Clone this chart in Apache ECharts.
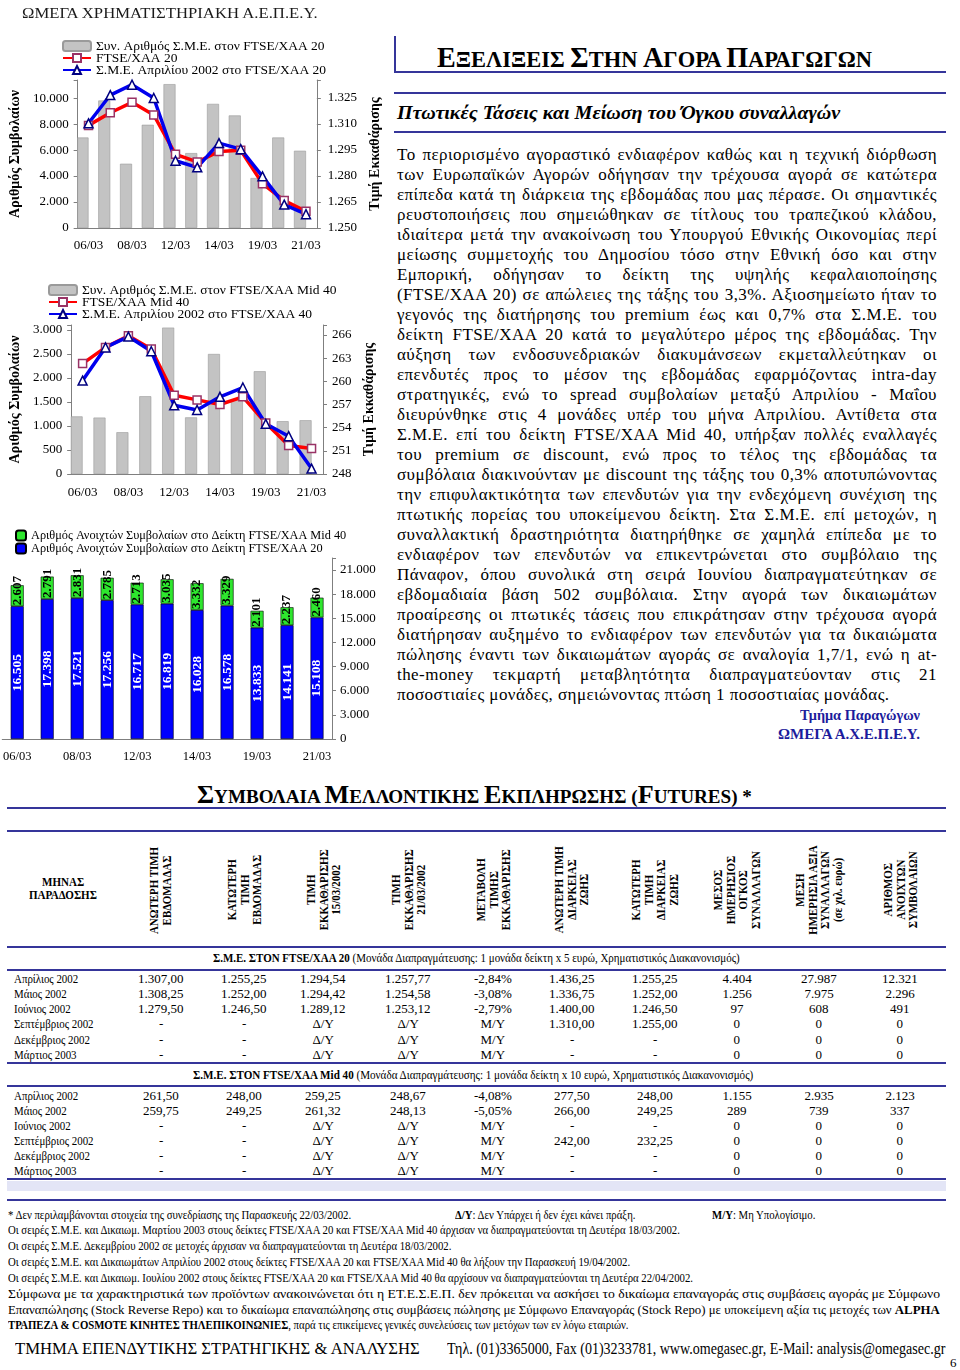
<!DOCTYPE html>
<html><head><meta charset="utf-8">
<script src="https://cdn.jsdelivr.net/npm/echarts@6/dist/echarts.min.js"></script>
<style>
html,body{margin:0;padding:0;background:#fff;}
body{width:960px;height:1370px;position:relative;overflow:hidden;font-family:"Liberation Serif","Times New Roman",serif;color:#000;}
.a{position:absolute;white-space:nowrap;transform-origin:0 50%;line-height:1;}
.hl{position:absolute;height:2px;background:#35359a;}
#left{position:absolute;left:0;top:0;width:390px;height:775px;}
</style></head><body>
<div id="left"></div>
<script>
// ---------------- DATA ----------------
const dates = ['06/03','07/03','08/03','11/03','12/03','13/03','14/03','15/03','19/03','20/03','21/03'];
const ftse20Volume = [6970, 9820, 4950, 7950, 11080, 5770, 9560, 8670, 3850, 6970, 5950];
const ftse20Index  = [1309.2, 1316.5, 1322.5, 1315.2, 1292.5, 1288.1, 1294.2, 1294.8, 1275.6, 1265.8, 1259.6];
const ftse20Apr    = [1310.4, 1326.7, 1332.7, 1325.0, 1288.8, 1285.0, 1299.0, 1295.5, 1279.8, 1263.5, 1258.0];
const mid40Volume  = [1200, 1175, 870, 1620, 3050, 1180, 2500, 1550, 2140, 1100, 1120];
const mid40Index   = [262.3, 264.4, 265.9, 264.2, 258.2, 257.6, 257.0, 258.0, 254.6, 251.7, 251.3];
const mid40Apr     = [260.1, 264.4, 265.8, 263.9, 256.9, 256.3, 258.0, 259.2, 254.5, 252.9, 248.7];
const oiFtse20     = [16505, 17398, 17521, 17256, 16717, 16819, 16028, 16578, 13833, 14141, 15108];
const oiMid40      = [2607, 2791, 2831, 2785, 2713, 3035, 3332, 3329, 2101, 2237, 2460];

const months = ['Απρίλιος 2002','Μάιος 2002','Ιούνιος 2002','Σεπτέμβριος 2002','Δεκέμβριος 2002','Μάρτιος 2003'];
const ftse20Table = [
 ['1.307,00','1.255,25','1.294,54','1.257,77','-2,84%','1.436,25','1.255,25','4.404','27.987','12.321'],
 ['1.308,25','1.252,00','1.294,42','1.254,58','-3,08%','1.336,75','1.252,00','1.256','7.975','2.296'],
 ['1.279,50','1.246,50','1.289,12','1.253,12','-2,79%','1.400,00','1.246,50','97','608','491'],
 ['-','-','Δ/Υ','Δ/Υ','Μ/Υ','1.310,00','1.255,00','0','0','0'],
 ['-','-','Δ/Υ','Δ/Υ','Μ/Υ','-','-','0','0','0'],
 ['-','-','Δ/Υ','Δ/Υ','Μ/Υ','-','-','0','0','0']];
const mid40Table = [
 ['261,50','248,00','259,25','248,67','-4,08%','277,50','248,00','1.155','2.935','2.123'],
 ['259,75','249,25','261,32','248,13','-5,05%','266,00','249,25','289','739','337'],
 ['-','-','Δ/Υ','Δ/Υ','Μ/Υ','-','-','0','0','0'],
 ['-','-','Δ/Υ','Δ/Υ','Μ/Υ','242,00','232,25','0','0','0'],
 ['-','-','Δ/Υ','Δ/Υ','Μ/Υ','-','-','0','0','0'],
 ['-','-','Δ/Υ','Δ/Υ','Μ/Υ','-','-','0','0','0']];
const tableHeaders = [
 ['ΑΝΩΤΕΡΗ ΤΙΜΗ','ΕΒΔΟΜΑΔΑΣ'],
 ['ΚΑΤΩΤΕΡΗ','ΤΙΜΗ','ΕΒΔΟΜΑΔΑΣ'],
 ['ΤΙΜΗ','ΕΚΚΑΘΑΡΙΣΗΣ','15/03/2002'],
 ['ΤΙΜΗ','ΕΚΚΑΘΑΡΙΣΗΣ','21/03/2002'],
 ['ΜΕΤΑΒΟΛΗ','ΤΙΜΗΣ','ΕΚΚΑΘΑΡΙΣΗΣ'],
 ['ΑΝΩΤΕΡΗ ΤΙΜΗ','ΔΙΑΡΚΕΙΑΣ','ΖΩΗΣ'],
 ['ΚΑΤΩΤΕΡΗ','ΤΙΜΗ','ΔΙΑΡΚΕΙΑΣ','ΖΩΗΣ'],
 ['ΜΕΣΟΣ','ΗΜΕΡΗΣΙΟΣ','ΟΓΚΟΣ','ΣΥΝΑΛΛΑΓΩΝ'],
 ['ΜΕΣΗ','ΗΜΕΡΗΣΙΑ ΑΞΙΑ','ΣΥΝΑΛΛΑΓΩΝ','(σε χιλ. ευρώ)'],
 ['ΑΡΙΘΜΟΣ','ΑΝΟΙΧΤΩΝ','ΣΥΜΒΟΛΑΙΩΝ']];

const bodyLines = [
 'Το περιορισμένο αγοραστικό ενδιαφέρον καθώς και η τεχνική διόρθωση',
 'των Ευρωπαϊκών Αγορών οδήγησαν την τρέχουσα αγορά σε κατώτερα',
 'επίπεδα κατά τη διάρκεια της εβδομάδας που μας πέρασε. Οι σημαντικές',
 'ρευστοποιήσεις που σημειώθηκαν σε τίτλους του τραπεζικού κλάδου,',
 'ιδιαίτερα μετά την ανακοίνωση του Υπουργού Εθνικής Οικονομίας περί',
 'μείωσης συμμετοχής του Δημοσίου τόσο στην Εθνική όσο και στην',
 'Εμπορική, οδήγησαν το δείκτη της υψηλής κεφαλαιοποίησης',
 '(FTSE/ΧΑΑ 20) σε απώλειες της τάξης του 3,3%. Αξιοσημείωτο ήταν το',
 'γεγονός της διατήρησης του premium έως και 0,7% στα Σ.Μ.Ε. του',
 'δείκτη FTSE/ΧΑΑ 20 κατά το μεγαλύτερο μέρος της εβδομάδας. Την',
 'αύξηση των ενδοσυνεδριακών διακυμάνσεων εκμεταλλεύτηκαν οι',
 'επενδυτές προς το μέσον της εβδομάδας εφαρμόζοντας intra-day',
 'στρατηγικές, ενώ το spread συμβολαίων μεταξύ Απριλίου - Μαΐου',
 'διευρύνθηκε στις 4 μονάδες υπέρ του μήνα Απριλίου. Αντίθετα στα',
 'Σ.Μ.Ε. επί του δείκτη FTSE/ΧΑΑ Mid 40, υπήρξαν πολλές εναλλαγές',
 'του premium σε discount, ενώ προς το τέλος της εβδομάδας τα',
 'συμβόλαια διακινούνταν με discount της τάξης του 0,3% αποτυπώνοντας',
 'την επιφυλακτικότητα των επενδυτών για την ενδεχόμενη συνέχιση της',
 'πτωτικής πορείας του υποκείμενου δείκτη. Στα Σ.Μ.Ε. επί μετοχών, η',
 'συναλλακτική δραστηριότητα διατηρήθηκε σε χαμηλά επίπεδα με το',
 'ενδιαφέρον των επενδυτών να επικεντρώνεται στο συμβόλαιο της',
 'Πάναφον, όπου συνολικά στη σειρά Ιουνίου διαπραγματεύτηκαν σε',
 'εβδομαδιαία βάση 502 συμβόλαια. Στην αγορά των δικαιωμάτων',
 'προαίρεσης οι πτωτικές τάσεις που επικράτησαν στην τρέχουσα αγορά',
 'διατήρησαν αυξημένο το ενδιαφέρον των επενδυτών για τα δικαιώματα',
 'πώλησης έναντι των δικαιωμάτων αγοράς σε αναλογία 1,7/1, ενώ η at-',
 'the-money τεκμαρτή μεταβλητότητα διαπραγματεύονταν στις 21',
 'ποσοστιαίες μονάδες, σημειώνοντας πτώση 1 ποσοστιαίας μονάδας.'];

// ---------------- CHARTS ----------------
const F = '"Liberation Serif","Times New Roman",serif';
const gray = '#7f7f7f';
const fmtK = v => String(Math.round(v)).replace(/\B(?=(\d{3})+(?!\d))/g, '.');
const stepFmt = (min, step) => v => { const k = (v - min) / step; return Math.abs(k - Math.round(k)) < 1e-6 ? fmtK(v) : ''; };

const N20 = 'Συν. Αριθμός Σ.Μ.Ε. στον FTSE/ΧΑΑ 20', L20 = 'FTSE/ΧΑΑ 20', A20 = 'Σ.Μ.Ε. Απριλίου 2002 στο FTSE/ΧΑΑ 20';
const N40 = 'Συν. Αριθμός Σ.Μ.Ε. στον FTSE/ΧΑΑ Mid 40', L40 = 'FTSE/ΧΑΑ Mid 40', A40 = 'Σ.Μ.Ε. Απριλίου 2002 στο FTSE/ΧΑΑ 40';
const OI40 = 'Αριθμός Ανοιχτών Συμβολαίων στο Δείκτη FTSE/ΧΑΑ Mid 40', OI20 = 'Αριθμός Ανοιχτών Συμβολαίων στο Δείκτη FTSE/ΧΑΑ 20';

function xAx(gi, margin, fs) {
  return {gridIndex: gi, type: 'category', data: dates, boundaryGap: true,
    axisLine: {lineStyle: {color: gray}}, axisTick: {length: 4, lineStyle: {color: gray}},
    axisLabel: {interval: 1, color: '#000', fontFamily: F, fontSize: fs, margin: margin}};
}
function yAx(gi, pos, min, max, step, name, nameGap, lm) {
  return {gridIndex: gi, type: 'value', position: pos, min: min, max: max, interval: step,
    axisLine: {show: true, lineStyle: {color: gray}}, axisTick: {show: true, length: 4, lineStyle: {color: gray}},
    splitLine: {show: false},
    axisLabel: {formatter: stepFmt(min, step), color: '#000', fontFamily: F, fontSize: 13, margin: lm},
    name: name, nameLocation: 'middle', nameRotate: 90, nameGap: nameGap,
    nameTextStyle: {fontFamily: F, fontSize: 14, fontWeight: 'bold', color: '#000'}};
}
function volBar(name, data, xi, yi) {
  return {name: name, type: 'bar', xAxisIndex: xi, yAxisIndex: yi, data: data, barWidth: 12, barGap: 0,
    itemStyle: {color: '#c3c3c3', borderColor: '#9a9a9a', borderWidth: 0.6}};
}
function gapBar(xi, yi) { return {type: 'bar', xAxisIndex: xi, yAxisIndex: yi, data: [], barWidth: 12, barGap: 0}; }
function idxLine(name, data, xi, yi) {
  return {name: name, type: 'line', xAxisIndex: xi, yAxisIndex: yi, data: data,
    lineStyle: {color: '#ff0000', width: 3.5}, symbol: 'rect', symbolSize: 8,
    itemStyle: {color: '#ffffff', borderColor: '#993366', borderWidth: 1.5}};
}
function futLine(name, data, xi, yi) {
  return {name: name, type: 'line', xAxisIndex: xi, yAxisIndex: yi, data: data,
    lineStyle: {color: '#0000ee', width: 3.5}, symbol: 'triangle', symbolSize: 9,
    itemStyle: {color: '#ffffff', borderColor: '#000080', borderWidth: 1.5}};
}
function lg(left, top, names, lh, fs, iw, ih, gap) {
  return {orient: 'vertical', left: left, top: top, itemGap: gap, itemWidth: iw, itemHeight: ih, data: names,
    textStyle: {fontFamily: F, fontSize: fs, color: '#000', lineHeight: lh}, padding: 0, selectedMode: false};
}

const chart = echarts.init(document.getElementById('left'), null, {renderer: 'canvas'});
chart.setOption({
  animation: false,
  grid: [
    {left: 69, top: 80, width: 251, height: 148},
    {left: 67, top: 325, width: 256, height: 149},
    {left: 2, top: 558, width: 330, height: 181}
  ],
  legend: [
    lg(62, 39, [N20, L20, A20], 12, 13.5, 28, 10, -2),
    lg(48, 283, [N40, L40, A40], 12, 13.5, 28, 10, -2),
    lg(15, 529, [OI40, OI20], 13, 12.3, 10, 10, 0)
  ],
  xAxis: [xAx(0, 11, 13), xAx(1, 12, 13), xAx(2, 11, 12.5)],
  yAxis: [
    yAx(0, 'left', 0, 11400, 2000, 'Αριθμός Συμβολαίων', 50, 9),
    yAx(0, 'right', 1250, 1250 + 148 / 26 * 15, 15, 'Τιμή Εκκαθάρισης', 25, 11),
    yAx(1, 'left', 0, 3104, 500, 'Αριθμός Συμβολαίων', 48, 9),
    yAx(1, 'right', 248, 267.3, 3, 'Τιμή Εκκαθάρισης', 23, 9),
    Object.assign(yAx(2, 'right', 0, 22500, 3000, '', 0, 8), {name: ''})
  ],
  series: [
    volBar(N20, ftse20Volume, 0, 0), gapBar(0, 0),
    idxLine(L20, ftse20Index, 0, 1), futLine(A20, ftse20Apr, 0, 1),
    volBar(N40, mid40Volume, 1, 2), gapBar(1, 2),
    idxLine(L40, mid40Index, 1, 3), futLine(A40, mid40Apr, 1, 3),
    {name: OI20, type: 'bar', stack: 'oi', xAxisIndex: 2, yAxisIndex: 4, data: oiFtse20, barWidth: 13,
     itemStyle: {color: '#0000ff', borderColor: '#000', borderWidth: 0.6},
     label: {show: true, position: 'inside', rotate: 90, color: '#fff', fontFamily: F, fontSize: 13.5, fontWeight: 'bold',
             formatter: p => fmtK(p.value)}},
    {name: OI40, type: 'bar', stack: 'oi', xAxisIndex: 2, yAxisIndex: 4, data: oiMid40, barWidth: 13,
     itemStyle: {color: '#2ee62e', borderColor: '#000', borderWidth: 0.6},
     label: {show: true, position: 'insideBottom', rotate: 90, align: 'left', verticalAlign: 'middle', distance: 1,
             color: '#000', fontFamily: F, fontSize: 13, fontWeight: 'bold', formatter: p => fmtK(p.value)}}
  ]
});

// ---------------- TEXT / TABLE LAYOUT ----------------
function put(html, x, yc, fs, opts) {
  opts = opts || {};
  const d = document.createElement('div');
  d.className = 'a';
  d.innerHTML = html;
  d.style.fontSize = fs + 'px';
  d.style.top = (yc - fs / 2) + 'px';
  d.style.left = x + 'px';
  if (opts.bold) d.style.fontWeight = 'bold';
  if (opts.italic) d.style.fontStyle = 'italic';
  if (opts.color) d.style.color = opts.color;
  document.body.appendChild(d);
  const nat = d.offsetWidth;
  if (opts.center) d.style.left = (x - nat / 2) + 'px';
  if (opts.w) {
    const s = opts.w / nat;
    d.style.transform = 'scaleX(' + s + ')';
    if (opts.right) d.style.left = (x - opts.w) + 'px';
  } else if (opts.s) {
    d.style.transform = 'scaleX(' + opts.s + ')';
    if (opts.center) d.style.left = (x - nat * opts.s / 2) + 'px';
  }
  return d;
}
function hline(x1, x2, y, h, color) {
  const d = document.createElement('div');
  d.className = 'hl';
  d.style.left = x1 + 'px'; d.style.width = (x2 - x1) + 'px'; d.style.top = y + 'px';
  if (h) d.style.height = h + 'px';
  if (color) d.style.background = color;
  document.body.appendChild(d);
}
function vline(x, y1, y2) {
  const d = document.createElement('div');
  d.className = 'hl';
  d.style.left = x + 'px'; d.style.top = y1 + 'px'; d.style.width = '2px'; d.style.height = (y2 - y1) + 'px';
  document.body.appendChild(d);
}
function sc(words, big, small) {
  return words.map(w => {
    if (w.startsWith('(')) return '(<span style="font-size:' + big + 'px">' + w[1] + '</span>' + w.slice(2);
    if (w === '*') return w;
    return '<span style="font-size:' + big + 'px">' + w[0] + '</span>' + w.slice(1);
  }).join(' ');
}

function layoutText() {
  put('ΩΜΕΓΑ ΧΡΗΜΑΤΙΣΤΗΡΙΑΚΗ Α.Ε.Π.Ε.Υ.', 22, 13, 15, {w: 296, color: '#1a1a1a'});

  // right column
  vline(394, 36, 73);
  hline(394, 946, 71);
  put(sc(['ΕΞΕΛΙΞΕΙΣ', 'ΣΤΗΝ', 'ΑΓΟΡΑ', 'ΠΑΡΑΓΩΓΩΝ'], 30, 24), 437, 54, 24, {bold: true, w: 435});
  hline(394, 946, 92);
  put('Πτωτικές Τάσεις και Μείωση του Όγκου συναλλαγών', 397, 112, 19, {bold: true, italic: true, w: 443});
  hline(394, 946, 131);

  bodyLines.forEach((t, i) => {
    const d = document.createElement('div');
    d.className = 'a';
    d.textContent = t;
    d.style.fontSize = '17px';
    d.style.letterSpacing = '0.45px';
    d.style.lineHeight = '20px';
    d.style.left = '397px';
    d.style.top = (145 + i * 20) + 'px';
    document.body.appendChild(d);
    const nat = d.offsetWidth;
    const last = i === bodyLines.length - 1;
    if (nat > 540) {
      d.style.transform = 'scaleX(' + (540 / nat) + ')';
    } else if (!last) {
      d.style.whiteSpace = 'normal';
      d.style.width = '540px';
      d.style.textAlign = 'justify';
      d.style.textAlignLast = 'justify';
    }
  });
  put('Τμήμα Παραγώγων', 920, 715, 15, {bold: true, color: '#1c1c9c', w: 120, right: true});
  put('ΩΜΕΓΑ Α.Χ.Ε.Π.Ε.Υ.', 920, 734, 15, {bold: true, color: '#1c1c9c', w: 142, right: true});

  // futures section
  put(sc(['ΣΥΜΒΟΛΑΙΑ', 'ΜΕΛΛΟΝΤΙΚΗΣ', 'ΕΚΠΛΗΡΩΣΗΣ', '(FUTURES)', '*'], 26, 19), 197, 791, 19, {bold: true, w: 555});
  hline(7, 946, 807);
  hline(7, 946, 830);

  const colX = [161, 244, 323, 408, 493, 572, 655, 737, 819, 900];
  put('ΜΗΝΑΣ', 63, 882, 12, {bold: true, center: true, s: 0.92});
  put('ΠΑΡΑΔΟΣΗΣ', 63, 895, 12, {bold: true, center: true, s: 0.92});
  tableHeaders.forEach((lines, c) => {
    const d = document.createElement('div');
    d.innerHTML = lines.join('<br>');
    d.style.cssText = 'position:absolute;white-space:nowrap;text-align:center;font-weight:bold;font-size:11.5px;line-height:12.5px;';
    document.body.appendChild(d);
    const w = d.offsetWidth, h = d.offsetHeight;
    d.style.left = (colX[c] - w / 2) + 'px';
    d.style.top = (890 - h / 2) + 'px';
    d.style.transform = 'rotate(-90deg) scaleX(0.95)';
    d.style.transformOrigin = '50% 50%';
  });
  hline(7, 946, 946);

  function block(title, rest, titleX, titleW, yTitle, yLine, rows, table) {
    put('<b>' + title + '</b>' + rest, titleX, yTitle, 12.5, {w: titleW});
    hline(7, 946, yLine);
    rows.forEach((y, r) => {
      put(months[r], 14, y, 13, {s: 0.84});
      table[r].forEach((v, c) => put(v, colX[c], y, 13, {center: true}));
    });
  }
  block('Σ.Μ.Ε. ΣΤΟΝ FTSE/ΧΑΑ 20', ' (Μονάδα Διαπραγμάτευσης: 1 μονάδα δείκτη x 5 ευρώ, Χρηματιστικός Διακανονισμός)',
        213, 527, 958, 969, [978, 993, 1008, 1023, 1039, 1054], ftse20Table);
  hline(7, 946, 1062);
  block('Σ.Μ.Ε. ΣΤΟΝ FTSE/ΧΑΑ Mid 40', ' (Μονάδα Διαπραγμάτευσης: 1 μονάδα δείκτη x 10 ευρώ, Χρηματιστικός Διακανονισμός)',
        193, 560, 1075, 1085, [1095, 1110, 1125, 1140, 1155, 1170], mid40Table);
  hline(7, 946, 1178);
  hline(7, 946, 1181, 10, '#e3e5f6');
  hline(7, 946, 1199);

  // footnotes
  const fs = 12.5, S = 0.86;
  put('* Δεν περιλαμβάνονται στοιχεία της συνεδρίασης της Παρασκευής 22/03/2002.', 8, 1215, fs, {s: S});
  put('<b>Δ/Υ</b>: Δεν Υπάρχει ή δεν έχει κάνει πράξη.', 455, 1215, fs, {s: S});
  put('<b>Μ/Υ</b>: Μη Υπολογίσιμο.', 712, 1215, fs, {s: S});
  put('Οι σειρές Σ.Μ.Ε. και Δικαιωμ. Μαρτίου 2003 στους δείκτες FTSE/ΧΑΑ 20 και FTSE/ΧΑΑ Mid 40 άρχισαν να διαπραγματεύονται τη Δευτέρα 18/03/2002.', 8, 1230, fs, {s: S});
  put('Οι σειρές Σ.Μ.Ε. Δεκεμβρίου 2002 σε μετοχές άρχισαν να διαπραγματεύονται τη Δευτέρα 18/03/2002.', 8, 1246, fs, {s: S});
  put('Οι σειρές Σ.Μ.Ε. και Δικαιωμάτων Απριλίου 2002 στους δείκτες FTSE/ΧΑΑ 20 και FTSE/ΧΑΑ Mid 40 θα λήξουν την Παρασκευή 19/04/2002.', 8, 1262, fs, {s: S});
  put('Οι σειρές Σ.Μ.Ε. και Δικαιωμ. Ιουλίου 2002 στους δείκτες FTSE/ΧΑΑ 20 και FTSE/ΧΑΑ Mid 40 θα αρχίσουν να διαπραγματεύονται τη Δευτέρα 22/04/2002.', 8, 1278, fs, {s: S});
  put('Σύμφωνα με τα χαρακτηριστικά των προϊόντων ανακοινώνεται ότι η ΕΤ.Ε.Σ.Ε.Π. δεν πρόκειται να ασκήσει το δικαίωμα επαναγοράς στις συμβάσεις αγοράς με Σύμφωνο', 8, 1294, fs, {w: 932});
  put('Επαναπώλησης (Stock Reverse Repo) και το δικαίωμα επαναπώλησης στις συμβάσεις πώλησης με Σύμφωνο Επαναγοράς (Stock Repo) με υποκείμενη αξία τις μετοχές των <b>ALPHA</b>', 8, 1310, fs, {w: 932});
  put('<b>ΤΡΑΠΕΖΑ &amp; COSMOTE ΚΙΝΗΤΕΣ ΤΗΛΕΠΙΚΟΙΝΩΝΙΕΣ</b>, παρά τις επικείμενες γενικές συνελεύσεις των μετόχων των εν λόγω εταιριών.', 8, 1325, fs, {s: S});

  put('ΤΜΗΜΑ ΕΠΕΝΔΥΤΙΚΗΣ ΣΤΡΑΤΗΓΙΚΗΣ &amp; ΑΝΑΛΥΣΗΣ', 15, 1349, 16, {w: 405});
  put('Τηλ. (01)3365000, Fax (01)3233781, www.omegasec.gr, E-Mail: analysis@omegasec.gr', 447, 1349, 16, {w: 498});
  put('6', 950, 1362, 13);
}
if (document.fonts && document.fonts.ready) document.fonts.ready.then(layoutText); else layoutText();
</script>
</body></html>
